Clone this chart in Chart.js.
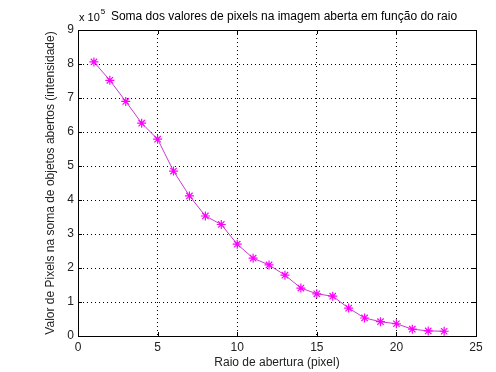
<!DOCTYPE html>
<html>
<head>
<meta charset="utf-8">
<script src="https://cdn.jsdelivr.net/npm/chart.js@4.4.0/dist/chart.umd.min.js"></script>
<style>
  html, body { margin: 0; padding: 0; background: #fff; }
  #wrap { width: 496px; height: 372px; }
</style>
</head>
<body>
<div id="wrap"><canvas id="grafico"></canvas></div>
<script>
'use strict';

// Dados
var raio = [1, 2, 3, 4, 5, 6, 7, 8, 9, 10, 11, 12, 13, 14, 15, 16, 17, 18, 19, 20, 21, 22, 23];
var soma = [806000, 752000, 690000, 626000, 579000, 485000, 412000, 353000, 328000, 270000,
  229000, 209000, 179000, 141000, 124000, 117000, 82000, 53000, 42000, 36000, 20000, 15000, 14000];
var xTicks = [0, 5, 10, 15, 20, 25];
var yTicks = [0, 1, 2, 3, 4, 5, 6, 7, 8, 9];

var titulo = 'Soma dos valores de pixels na imagem aberta em função do raio';
var fonte = '"Liberation Sans", Arial, sans-serif';

var pontos = [];
for (var i = 0; i < raio.length; i++) {
  pontos.push({ x: raio[i], y: soma[i] });
}

// caixa, marcas internas e titulo estilo matlab
var estiloMatlab = {
  id: 'estiloMatlab',
  afterDraw: function (chart) {
    var ctx = chart.ctx;
    var a = chart.chartArea;
    var sx = chart.scales.x;
    var sy = chart.scales.y;
    ctx.save();
    ctx.strokeStyle = '#000';
    ctx.lineWidth = 1;
    ctx.setLineDash([]);
    ctx.beginPath();
    xTicks.forEach(function (t) {
      var px = Math.round(sx.getPixelForValue(t)) + 0.5;
      ctx.moveTo(px, a.bottom); ctx.lineTo(px, a.bottom - 4);
      ctx.moveTo(px, a.top); ctx.lineTo(px, a.top + 4);
    });
    yTicks.forEach(function (t) {
      var py = Math.round(sy.getPixelForValue(t * 1e5)) + 0.5;
      ctx.moveTo(a.left, py); ctx.lineTo(a.left + 4, py);
      ctx.moveTo(a.right, py); ctx.lineTo(a.right - 4, py);
    });
    ctx.stroke();
    ctx.strokeRect(Math.round(a.left) + 0.5, Math.round(a.top) + 0.5,
      Math.round(a.right - a.left), Math.round(a.bottom - a.top));

    ctx.fillStyle = '#000';
    ctx.textBaseline = 'middle';
    ctx.textAlign = 'center';
    ctx.font = '12px ' + fonte;
    ctx.fillText(titulo, 284, 17);

    ctx.textAlign = 'left';
    ctx.font = '11px ' + fonte;
    ctx.fillText('x 10', 79, 18);
    var w = ctx.measureText('x 10').width;
    ctx.font = '8px ' + fonte;
    ctx.fillText('5', 79 + w + 1, 12);
    ctx.restore();
  }
};

var ctx = document.getElementById('grafico').getContext('2d');
var grafico = new Chart(ctx, {
  type: 'line',
  data: {
    datasets: [{
      data: pontos,
      borderColor: '#c63cc6',
      borderWidth: 1,
      pointStyle: 'star',
      pointRadius: 4.5,
      pointBorderColor: '#ff00ff',
      pointBorderWidth: 1.2,
      pointBackgroundColor: '#ff00ff',
      tension: 0
    }]
  },
  options: {
    responsive: true,
    maintainAspectRatio: false,
    animation: false,
    events: [],
    layout: { padding: { left: 43, right: 20, top: 30, bottom: 2 } },
    plugins: {
      legend: { display: false },
      tooltip: { enabled: false }
    },
    scales: {
      x: {
        type: 'linear',
        min: 0,
        max: 25,
        afterBuildTicks: function (s) {
          s.ticks = xTicks.map(function (v) { return { value: v }; });
        },
        afterFit: function (s) { s.height = 34; },
        ticks: {
          color: '#222',
          font: { family: fonte, size: 12 },
          padding: 4,
          maxRotation: 0
        },
        grid: { color: '#000', lineWidth: 1, tickLength: 0, drawTicks: false },
        border: { display: true, color: '#000', dash: [1, 3] },
        title: {
          display: true,
          text: 'Raio de abertura (pixel)',
          color: '#222',
          font: { family: fonte, size: 12 },
          padding: { top: 0, bottom: 0 }
        }
      },
      y: {
        type: 'linear',
        min: 0,
        max: 9e5,
        afterBuildTicks: function (s) {
          s.ticks = yTicks.map(function (v) { return { value: v * 1e5 }; });
        },
        afterFit: function (s) { s.width = 35; },
        ticks: {
          color: '#222',
          font: { family: fonte, size: 12 },
          padding: 4,
          callback: function (v) { return String(Math.round(v / 1e5)); }
        },
        grid: { color: '#000', lineWidth: 1, tickLength: 0, drawTicks: false },
        border: { display: true, color: '#000', dash: [1, 3] },
        title: {
          display: true,
          text: 'Valor de Pixels na soma de objetos abertos (intensidade)',
          color: '#222',
          font: { family: fonte, size: 12 },
          padding: { top: 0, bottom: 0 }
        }
      }
    }
  },
  plugins: [estiloMatlab]
});
</script>
</body>
</html>
